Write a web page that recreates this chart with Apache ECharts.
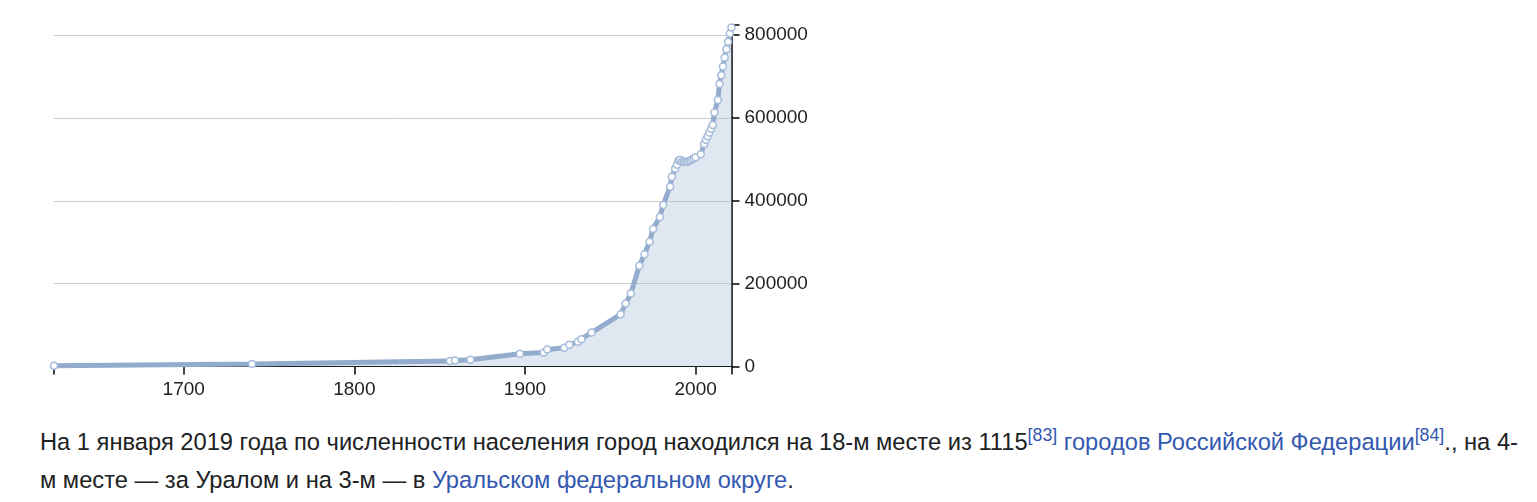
<!DOCTYPE html>
<html>
<head>
<meta charset="utf-8">
<script src="https://cdn.jsdelivr.net/npm/echarts@6/dist/echarts.min.js"></script>
<style>
  html, body { margin: 0; padding: 0; background: #fff; width: 1537px; height: 502px; overflow: hidden; }
  #chart { position: absolute; left: 0; top: 0; width: 1537px; height: 420px; }
  #txt { position: absolute; left: 40px; top: 423px; font-family: "Liberation Sans", Arial, sans-serif; font-size: 23.7px; line-height: 38px; color: #202122; white-space: nowrap; }
  #txt a { color: #3358b0; text-decoration: none; }
  #txt sup { font-size: 75%; line-height: 1; vertical-align: super; }
</style>
</head>
<body>
<div id="chart"></div>
<div id="txt">На 1 января 2019 года по численности населения город находился на 18-м месте из 1115<sup><a>[83]</a></sup> <a>городов Российской Федерации</a><sup><a>[84]</a></sup>., на 4-<br>м месте — за Уралом и на 3-м — в <a>Уральском федеральном округе</a>.</div>
<script>
const years = [1624, 1740, 1856, 1859, 1868, 1897, 1911, 1913, 1923, 1926, 1931, 1933, 1939,
  1956, 1959, 1962, 1967, 1970, 1973, 1975, 1979, 1981, 1985, 1986, 1988, 1989,
  1990, 1991, 1992, 1993, 1994, 1995, 1996, 1997, 1998, 1999, 2000,
  2003, 2005, 2006, 2007, 2008, 2009, 2010, 2011, 2013, 2014, 2015, 2016, 2017, 2018, 2019, 2020, 2021];
const population = [2000, 6000, 13000, 14500, 16500, 31000, 34000, 41000, 45500, 52500, 59500, 66000, 82000,
  126000, 152000, 176000, 243000, 271000, 301000, 332000, 361000, 390000, 434000, 458000, 478000, 487000,
  497000, 499000, 495000, 494000, 494000, 494000, 496000, 498000, 500000, 502000, 505000,
  512000, 537000, 547000, 556000, 565000, 574000, 583000, 613000, 643000, 682000, 703000, 724000, 746000, 766000, 784000, 804000, 818000];
const xTickValues = [1624, 1700, 1800, 1900, 2000, 2021];
const xLabelValues = [1700, 1800, 1900, 2000];
const yTickValues = [0, 200000, 400000, 600000, 800000, 824000];
const yLabelValues = [0, 200000, 400000, 600000, 800000];
const gridValues = [200000, 400000, 600000, 800000];

const chart = echarts.init(document.getElementById('chart'));
const font = '"Liberation Sans", Arial, sans-serif';
chart.setOption({
  animation: false,
  grid: { left: 54, top: 25.1, width: 677.5, height: 341.4 },
  xAxis: {
    type: 'value', min: 1624, max: 2021,
    axisLine: { show: true, lineStyle: { color: '#000', width: 1 } },
    axisTick: { show: true, length: 8, customValues: xTickValues, lineStyle: { color: '#000', width: 1.5 } },
    axisLabel: { customValues: xLabelValues, formatter: v => String(v), fontSize: 19, fontFamily: font, color: '#222', margin: 14 },
    splitLine: { show: false }
  },
  yAxis: {
    type: 'value', position: 'right', min: 0, max: 824000,
    axisLine: { show: true, lineStyle: { color: '#000', width: 1.5 } },
    axisTick: { show: true, length: 8, customValues: yTickValues, lineStyle: { color: '#000', width: 1.5 } },
    axisLabel: { customValues: yLabelValues, formatter: v => String(v), fontSize: 19, fontFamily: font, color: '#222', margin: 13 },
    splitLine: { show: false }
  },
  series: [{
    type: 'line',
    data: years.map((y, i) => [y, population[i]]),
    showAllSymbol: true,
    symbol: 'circle',
    symbolSize: 7,
    itemStyle: { color: '#ffffff', borderColor: '#a4bbda', borderWidth: 1.5 },
    lineStyle: { color: '#93abcd', width: 5 },
    areaStyle: { color: 'rgba(160,182,210,0.48)', origin: 'start' },
    markLine: {
      silent: true, symbol: ['none', 'none'], z: 1,
      label: { show: false },
      lineStyle: { color: '#cccccc', width: 1, type: 'solid' },
      data: gridValues.map(v => ({ yAxis: v }))
    }
  }]
});
</script>
</body>
</html>
